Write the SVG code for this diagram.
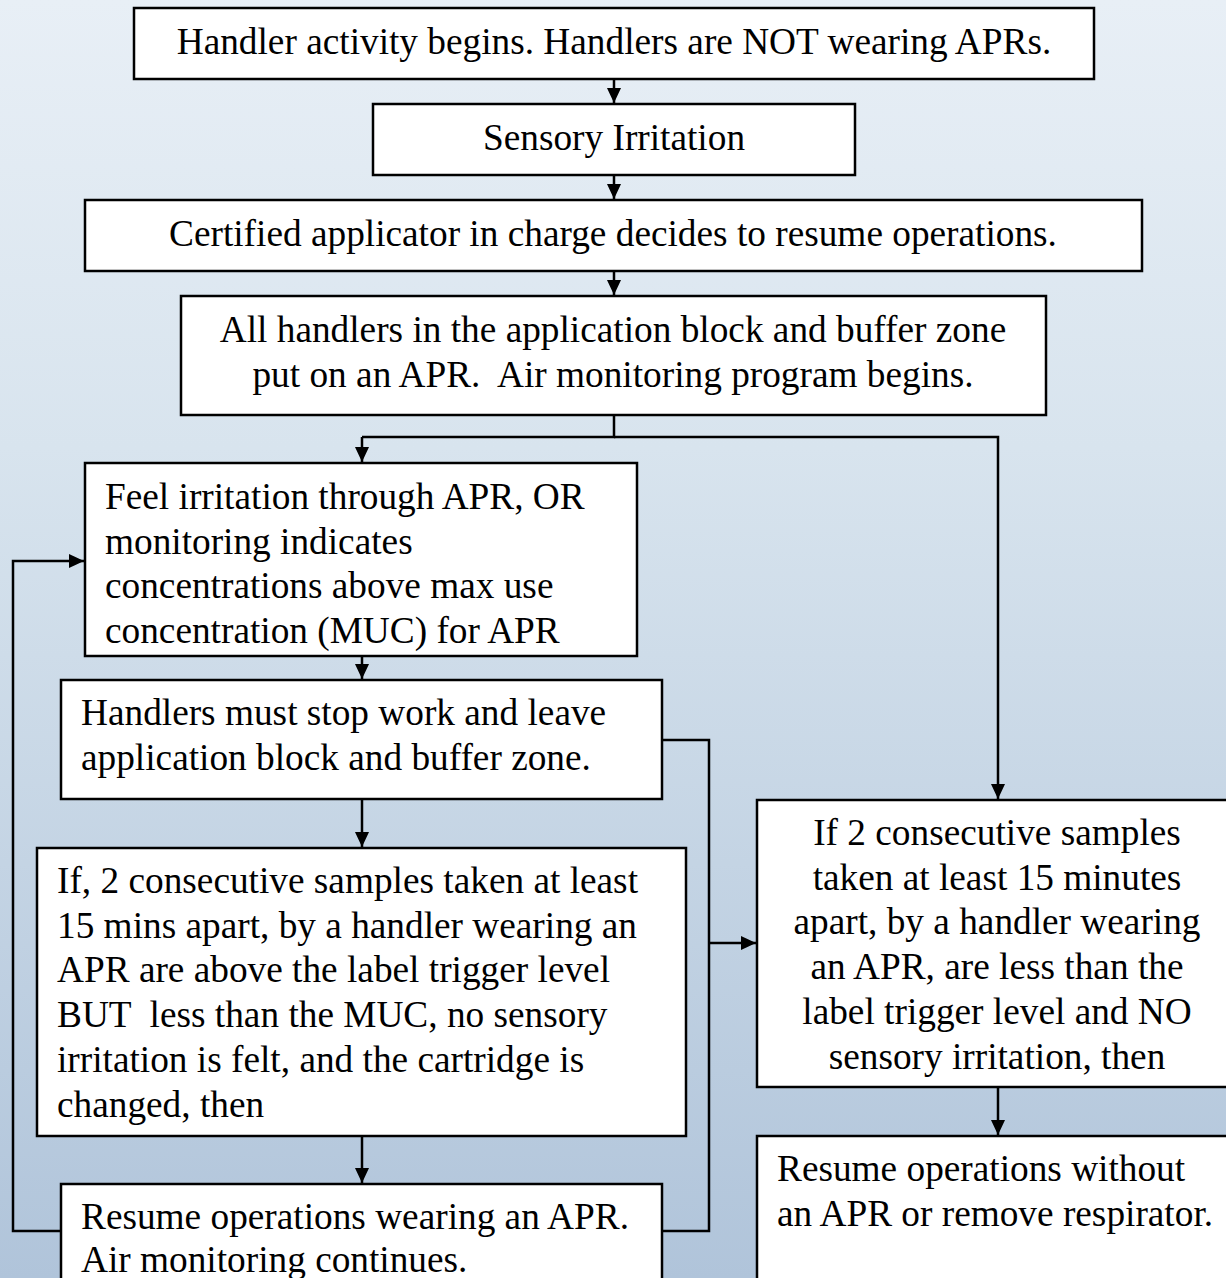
<svg xmlns="http://www.w3.org/2000/svg" width="1226" height="1278" viewBox="0 0 1226 1278">
  <defs>
    <linearGradient id="bg" x1="0" y1="0" x2="0" y2="1">
      <stop offset="0" stop-color="#e8eff6"/>
      <stop offset="0.35" stop-color="#d8e4ee"/>
      <stop offset="1" stop-color="#b0c4da"/>
    </linearGradient>
    <marker id="arrow" markerUnits="userSpaceOnUse" markerWidth="16" markerHeight="14" refX="15" refY="7" orient="auto">
      <path d="M0,0 L15,7 L0,14 z" fill="#000"/>
    </marker>
    <style>
      .box { fill: #fff; stroke: #000; stroke-width: 2.5; }
      .t { font-family: "Liberation Serif", "Times New Roman", serif; font-size: 37.3px; fill: #000; white-space: pre; }
      .c { text-anchor: middle; }
      .link { fill: none; stroke: #000; stroke-width: 2.5; }
      .arr { marker-end: url(#arrow); }
    </style>
  </defs>

  <rect x="0" y="0" width="1226" height="1278" fill="url(#bg)"/>

  <!-- connectors -->
  <g id="connectors">
    <path class="link arr" d="M614,80 V103"/>
    <path class="link arr" d="M614,176 V199"/>
    <path class="link arr" d="M614,272 V295"/>
    <path class="link" d="M614,416 V437 H362"/>
    <path class="link arr" d="M362,437 V462"/>
    <path class="link arr" d="M614,437 H998 V799"/>
    <path class="link arr" d="M362,657 V679"/>
    <path class="link arr" d="M362,800 V847"/>
    <path class="link arr" d="M362,1137 V1183"/>
    <path class="link arr" d="M61,1231 H13 V561 H84"/>
    <path class="link" d="M662,740 H709 V1231 H662"/>
    <path class="link arr" d="M709,943 H756"/>
    <path class="link arr" d="M998,1088 V1135"/>
  </g>

  <!-- nodes -->
  <g id="n-start">
    <rect class="box" x="134" y="8" width="960" height="71"/>
    <text class="t c" x="614" y="54">Handler activity begins. Handlers are NOT wearing APRs.</text>
  </g>
  <g id="n-irritation">
    <rect class="box" x="373" y="104" width="482" height="71"/>
    <text class="t c" x="614" y="150">Sensory Irritation</text>
  </g>
  <g id="n-decide">
    <rect class="box" x="85" y="200" width="1057" height="71"/>
    <text class="t c" x="613" y="246">Certified applicator in charge decides to resume operations.</text>
  </g>
  <g id="n-apr-on">
    <rect class="box" x="181" y="296" width="865" height="119"/>
    <text class="t c" x="613" y="342">All handlers in the application block and buffer zone</text>
    <text class="t c" x="613" y="387" xml:space="preserve">put on an APR.  Air monitoring program begins.</text>
  </g>
  <g id="n-feel">
    <rect class="box" x="85" y="463" width="552" height="193"/>
    <text class="t" x="105" y="509">Feel irritation through APR, OR</text>
    <text class="t" x="105" y="554">monitoring indicates</text>
    <text class="t" x="105" y="598">concentrations above max use</text>
    <text class="t" x="105" y="643">concentration (MUC) for APR</text>
  </g>
  <g id="n-stop">
    <rect class="box" x="61" y="680" width="601" height="119"/>
    <text class="t" x="81" y="725">Handlers must stop work and leave</text>
    <text class="t" x="81" y="770">application block and buffer zone.</text>
  </g>
  <g id="n-above">
    <rect class="box" x="37" y="848" width="649" height="288"/>
    <text class="t" x="57" y="893">If, 2 consecutive samples taken at least</text>
    <text class="t" x="57" y="938">15 mins apart, by a handler wearing an</text>
    <text class="t" x="57" y="982">APR are above the label trigger level</text>
    <text class="t" x="57" y="1027" xml:space="preserve">BUT  less than the MUC, no sensory</text>
    <text class="t" x="57" y="1072">irritation is felt, and the cartridge is</text>
    <text class="t" x="57" y="1117">changed, then</text>
  </g>
  <g id="n-resume-apr">
    <rect class="box" x="61" y="1184" width="601" height="120"/>
    <text class="t" x="81" y="1229">Resume operations wearing an APR.</text>
    <text class="t" x="81" y="1272">Air monitoring continues.</text>
  </g>
  <g id="n-below">
    <rect class="box" x="757" y="800" width="490" height="287"/>
    <text class="t c" x="997" y="845">If 2 consecutive samples</text>
    <text class="t c" x="997" y="890">taken at least 15 minutes</text>
    <text class="t c" x="997" y="934">apart, by a handler wearing</text>
    <text class="t c" x="997" y="979">an APR, are less than the</text>
    <text class="t c" x="997" y="1024">label trigger level and NO</text>
    <text class="t c" x="997" y="1069">sensory irritation, then</text>
  </g>
  <g id="n-resume-free">
    <rect class="box" x="757" y="1136" width="490" height="170"/>
    <text class="t" x="777" y="1181">Resume operations without</text>
    <text class="t" x="777" y="1226">an APR or remove respirator.</text>
  </g>
</svg>
